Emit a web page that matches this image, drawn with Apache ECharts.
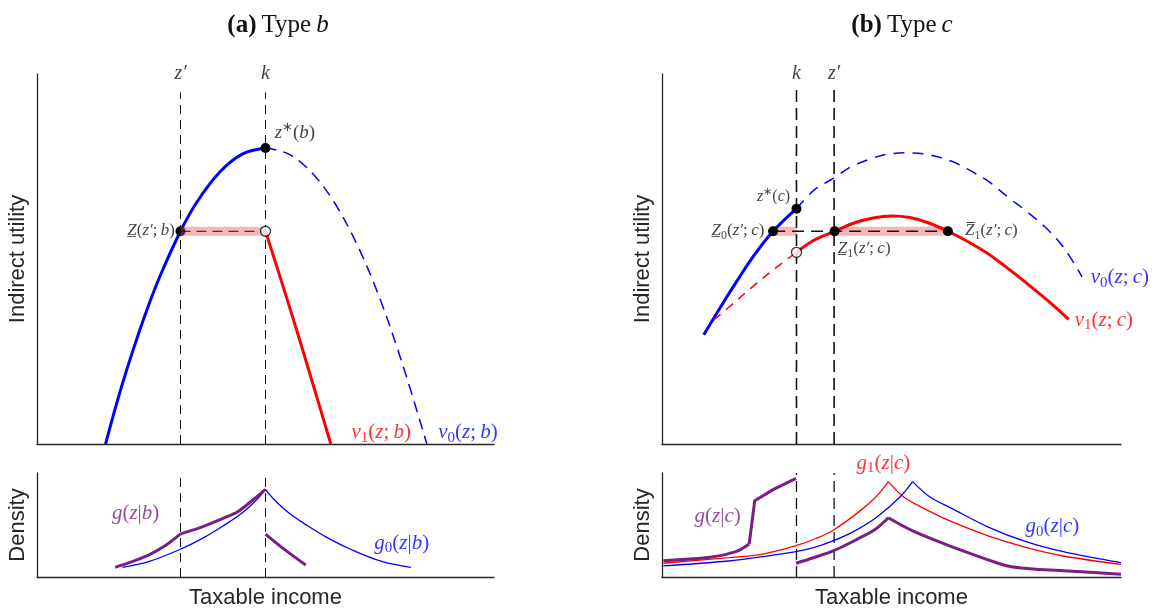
<!DOCTYPE html>
<html><head><meta charset="utf-8">
<script src="https://cdn.jsdelivr.net/npm/echarts@6/dist/echarts.min.js"></script>
<style>html,body{margin:0;padding:0;background:#fff}#c{width:1159px;height:614px}</style>
</head><body><div id="c"></div>
<script>
// ================= DATA =================
// Panel (a): type b — indirect utility (x: taxable income 0..100, y: utility 0..100)
const a_k = 50, a_zp = 31.4;
const a_vTop = 95;
const a_v0Solid = [[15,0],[18,13.4],[21,25.3],[24,36.1],[27,45.6],[31.4,57.5],[35,65.4],[40,73.5],[45,78.4],[50,80]];
const a_v0Dash  = [[50,80],[55,78.4],[60,73.5],[65,65.4],[70,54],[75,39.4],[80,21.5],[85.3,0]];
const a_v1      = [[50,57.5],[54,42],[58,26],[62,9.5],[64.3,0]];
const a_band    = [[31.4,57.5],[50,57.5]];
const a_filled  = [[31.4,57.5],[50,80]];
const a_open    = [[50,57.5]];
// Panel (a): density
const a_g0Left  = [[18.7,9.3],[24.4,14.7],[31.5,26.9],[36.6,38.1],[40.7,49],[44.8,61.2],[48,74],[50,84.3]];
const a_g0Right = [[50,84.3],[52,74],[55.2,61.2],[59.3,49],[63.4,38.1],[68.5,26.9],[75.6,14.7],[81.8,9.3]];
const a_gPart1  = [[17.1,9.3],[20,13.5],[24.4,21],[28,30],[31.4,41.5]];
const a_gPart2  = [[31.4,41.5],[36,48],[40.7,56.4],[44,63],[47.2,74],[50,84.3]];
const a_gPart3  = [[50,41.3],[54,27],[58.8,11.5]];

// Panel (b): type c — indirect utility
const b_k = 29.3, b_zp = 37.5;
const b_vTop = 96.8;
const b_v0Solid = [[9.1,29.5],[12.5,36.5],[16.1,43.6],[20,50.9],[24.2,57.5],[29.3,63.6]];
const b_v0Dash  = [[29.3,63.6],[33,68.5],[37.6,72],[41,74.8],[45.3,77],[49,78.3],[53.4,78.7],[58,78.2],[63.1,76.4],[67,74],[71.2,70.9],[75.3,66.8],[79.3,63],[83.4,58.7],[87.4,53.3],[91.5,45.2]];
const b_v1Solid = [[29.3,51.8],[33,55],[37.6,57.5],[42,59.8],[46,61.1],[50.2,61.6],[54,61.2],[58,59.8],[62.3,57.5],[66.5,54.8],[71.2,51.3],[75,47.8],[79.3,43.6],[84,38.8],[88.6,33.7]];
const b_v1Dash  = [[11.3,33.5],[16,38.5],[20.2,43],[25,47.8],[29.3,51.8]];
const b_bandL   = [[24.2,57.5],[29.3,57.5]];
const b_bandR   = [[37.6,57.5],[62.3,57.5]];
const b_hDash   = [[24.2,57.5],[62.3,57.5]];
const b_filled  = [[24.2,57.5],[29.3,63.6],[37.6,57.5],[62.3,57.5]];
const b_open    = [[29.3,51.8]];
// Panel (b): density
const b_g1Left  = [[0.3,13.2],[14.5,18.6],[22,22.1],[29.2,30.1],[33.5,37],[37.4,45.2],[43.7,65.5],[46.9,78.5],[49.3,91.7]];
const b_g1Right = [[49.3,91.7],[52.6,77.2],[56.6,67],[63.1,53.2],[71.2,39.4],[79.3,28.5],[87.4,20.2],[100,12.2]];
const b_g0Left  = [[0.3,10.6],[14.5,15.4],[22,19.6],[29.2,24.4],[33,28.2],[37.4,34.9],[42,44.3],[46.9,58],[51.9,77.2],[54.6,91.7]];
const b_g0Right = [[54.6,91.7],[58.3,77.2],[63.1,66],[71.2,47.8],[79.3,34],[87.4,24.4],[100,13.8]];
const b_gPartA  = [[0.3,15.7],[10.5,18.9],[16.1,24.4],[19,31.7]];
const b_gPartB  = [[19,31.7],[20.2,73.4],[24.2,84],[29.2,94.9]];
const b_gPartC  = [[29.2,13.2],[33,18.5],[37.4,25.3],[42.9,37.2],[46.5,46],[49.3,57]];
const b_gPartD  = [[49.3,57],[55,43.6],[63.1,29.2],[71.2,16.3],[75.3,10.6],[80,8],[87.4,6.1],[100,2.6]];

// Text
const titleA = '{b|(a)} {n|Type} {i|b}';
const titleB = '{b|(b)} {n|Type} {i|c}';
const nameUtility = 'Indirect utility';
const nameDensity = 'Density';
const nameIncome  = 'Taxable income';

// ================= CHART =================
const SERIF = 'Liberation Serif';
const SANS = 'Liberation Sans';
const AX = '#262626';
const BLUE = '#0000ff', RED = '#ff0000', PURPLE = '#7d1d84', BLACK = '#111111';
const BAND = 'rgba(240,80,80,0.42)';

function rich(fs, color){
  const lh = Math.round(fs*1.25);
  return {
    i:{fontFamily:SERIF,fontStyle:'italic',fontSize:fs,color:color,lineHeight:lh},
    n:{fontFamily:SERIF,fontSize:fs,color:color,lineHeight:lh},
    sb:{fontFamily:SERIF,fontSize:Math.round(fs*0.7),color:color,verticalAlign:'bottom'},
    sp:{fontFamily:SERIF,fontSize:Math.round(fs*0.7),color:color,verticalAlign:'top'}
  };
}

const grids = [
  {left:37, top:74, width:457, height:370},
  {left:37, top:473, width:457, height:104},
  {left:662, top:74, width:459, height:370},
  {left:662, top:473, width:459, height:104}
];
function axis(i, name, gap){
  return {gridIndex:i, type:'value', min:0, max:100,
    axisLine:{show:true,onZero:false,lineStyle:{color:AX,width:1.3}},
    axisTick:{show:false}, axisLabel:{show:false}, splitLine:{show:false},
    name:name||'', nameLocation:'middle', nameGap:gap,
    nameTextStyle:{fontFamily:SANS,fontSize:22,color:AX}};
}
const xAxes = [axis(0,'',0), axis(1,nameIncome,10), axis(2,'',0), axis(3,nameIncome,10)];
const yAxes = [axis(0,nameUtility,8), axis(1,nameDensity,8), axis(2,nameUtility,8), axis(3,nameDensity,8)];

const series = [];
function line(g, data, color, width, type, smooth, z){
  series.push({type:'line', xAxisIndex:g, yAxisIndex:g, data:data, symbol:'none', showSymbol:false,
    smooth:smooth?0.35:false, silent:true, z:z||2, clip:false,
    lineStyle:{color:color, width:width, type:type||'solid', cap:'butt'}});
}
function dots(g, data, open, z){
  series.push({type:'scatter', xAxisIndex:g, yAxisIndex:g, data:data, symbol:'circle', symbolSize:10,
    silent:true, z:z||6, clip:false,
    itemStyle: open ? {color:'#ffffff', borderColor:'#000', borderWidth:1.3} : {color:'#000', borderColor:'#000', borderWidth:0, opacity:1}});
}
function labels(g, items){
  series.push({type:'scatter', xAxisIndex:g, yAxisIndex:g, symbolSize:0, silent:true, z:10, clip:false,
    data: items.map(it => ({value:it.at, label:{show:true, formatter:it.t, position:it.pos||'right', distance:it.d||0,
      rich:rich(it.fs, it.c||BLACK)}}))});
}

// ---- Panel (a) top
line(0, [[a_zp,0],[a_zp,a_vTop]], BLACK, 1, [9,6], false, 1);
line(0, [[a_k,0],[a_k,a_vTop]], BLACK, 1, [9,6], false, 1);
line(0, a_v0Solid, BLUE, 3, 'solid', true, 3);
line(0, a_v0Dash, BLUE, 1.5, [11,7], true, 3);
line(0, a_v1, RED, 3, 'solid', true, 3);
dots(0, a_filled, false, 4);
line(0, a_band, BAND, 9, 'solid', false, 5);
line(0, a_band, BLACK, 1.2, [10,6], false, 6);
dots(0, a_open, true, 7);
labels(0, [
  {at:[a_zp,100], t:'{i|z′}', pos:'inside', fs:20},
  {at:[a_k,100], t:'{i|k}', pos:'inside', fs:20},
  {at:[52,84], t:'{i|z}{sp|∗}{n|(}{i|b}{n|)}', fs:19},
  {at:[30.2,57.8], t:'{i|Z\u0332}{n|(}{i|z′}{n|;\u2009}{i|b}{n|)}', pos:'left', fs:17},
  {at:[68.8,3], t:'{i|v}{sb|1}{n|(}{i|z}{n|;\u2009}{i|b}{n|)}', fs:21, c:RED},
  {at:[87.8,3], t:'{i|v}{sb|0}{n|(}{i|z}{n|;\u2009}{i|b}{n|)}', fs:21, c:BLUE}
]);

// ---- Panel (a) density
line(1, [[a_zp,0],[a_zp,100]], BLACK, 1, [9,6], false, 1);
line(1, [[a_k,0],[a_k,100]], BLACK, 1, [9,6], false, 1);
line(1, a_g0Left, BLUE, 1.3, 'solid', true, 3);
line(1, a_g0Right, BLUE, 1.3, 'solid', true, 3);
line(1, a_gPart1, PURPLE, 3, 'solid', true, 4);
line(1, a_gPart2, PURPLE, 3, 'solid', true, 4);
line(1, a_gPart3, PURPLE, 3, 'solid', true, 4);
labels(1, [
  {at:[16.4,61.5], t:'{i|g}{n|(}{i|z}{n||}{i|b}{n|)}', fs:21, c:PURPLE},
  {at:[73.8,32.7], t:'{i|g}{sb|0}{n|(}{i|z}{n||}{i|b}{n|)}', fs:21, c:BLUE}
]);

// ---- Panel (b) top
line(2, [[b_k,0],[b_k,b_vTop]], BLACK, 1.6, [12,6], false, 1);
line(2, [[b_zp,0],[b_zp,b_vTop]], BLACK, 1.6, [12,6], false, 1);
line(2, b_bandL, BAND, 9, 'solid', false, 2);
line(2, b_bandR, BAND, 9, 'solid', false, 2);
line(2, b_v0Solid, BLUE, 3, 'solid', true, 3);
line(2, b_v0Dash, BLUE, 1.5, [11,8], true, 3);
line(2, b_v1Solid, RED, 3, 'solid', true, 3);
line(2, b_v1Dash, RED, 1.5, [9,7], true, 3);
line(2, b_hDash, BLACK, 1.3, [12,7], false, 4);
dots(2, b_filled, false, 6);
dots(2, b_open, true, 7);
labels(2, [
  {at:[b_k,100], t:'{i|k}', pos:'inside', fs:20},
  {at:[b_zp,100], t:'{i|z′}', pos:'inside', fs:20},
  {at:[27.9,66.8], t:'{i|z}{sp|∗}{n|(}{i|c}{n|)}', pos:'left', fs:16},
  {at:[22.3,57.6], t:'{i|Z\u0332}{sb|0}{n|(}{i|z′}{n|;\u2009}{i|c}{n|)}', pos:'left', fs:17},
  {at:[38.3,52.7], t:'{i|Z\u0332}{sb|1}{n|(}{i|z′}{n|;\u2009}{i|c}{n|)}', fs:17},
  {at:[66,57.6], t:'{i|Z\u0305}{sb|1}{n|(}{i|z′}{n|;\u2009}{i|c}{n|)}', fs:17},
  {at:[93.4,45.1], t:'{i|v}{sb|0}{n|(}{i|z}{n|;\u2009}{i|c}{n|)}', fs:21, c:BLUE},
  {at:[89.9,33.5], t:'{i|v}{sb|1}{n|(}{i|z}{n|;\u2009}{i|c}{n|)}', fs:21, c:RED}
]);

// ---- Panel (b) density
line(3, [[b_k,0],[b_k,100]], BLACK, 1.3, [11,6], false, 1);
line(3, [[b_zp,0],[b_zp,100]], BLACK, 1.3, [11,6], false, 1);
line(3, b_g1Left, RED, 1.3, 'solid', true, 3);
line(3, b_g1Right, RED, 1.3, 'solid', true, 3);
line(3, b_g0Left, BLUE, 1.3, 'solid', true, 3);
line(3, b_g0Right, BLUE, 1.3, 'solid', true, 3);
line(3, b_gPartA, PURPLE, 3, 'solid', true, 4);
line(3, b_gPartB, PURPLE, 3, 'solid', false, 4);
line(3, b_gPartC, PURPLE, 3, 'solid', true, 4);
line(3, b_gPartD, PURPLE, 3, 'solid', true, 4);
labels(3, [
  {at:[42.4,109.6], t:'{i|g}{sb|1}{n|(}{i|z}{n||}{i|c}{n|)}', fs:21, c:RED},
  {at:[7.1,58], t:'{i|g}{n|(}{i|z}{n||}{i|c}{n|)}', fs:21, c:PURPLE},
  {at:[79.2,48.4], t:'{i|g}{sb|0}{n|(}{i|z}{n||}{i|c}{n|)}', fs:21, c:BLUE}
]);

const titleRich = {
  b:{fontFamily:SERIF,fontWeight:'bold',fontSize:25,color:'#111'},
  n:{fontFamily:SERIF,fontWeight:'normal',fontSize:25,color:'#111'},
  i:{fontFamily:SERIF,fontWeight:'normal',fontStyle:'italic',fontSize:25,color:'#111'}
};
const chart = echarts.init(document.getElementById('c'), null, {renderer:'canvas'});
chart.setOption({
  animation:false,
  backgroundColor:'#ffffff',
  title:[
    {text:titleA, left:273, top:8, textAlign:'center', textStyle:{fontWeight:'normal', rich:titleRich}},
    {text:titleB, left:897, top:8, textAlign:'center', textStyle:{fontWeight:'normal', rich:titleRich}}
  ],
  grid:grids,
  xAxis:xAxes,
  yAxis:yAxes,
  series:series
});
</script></body></html>
